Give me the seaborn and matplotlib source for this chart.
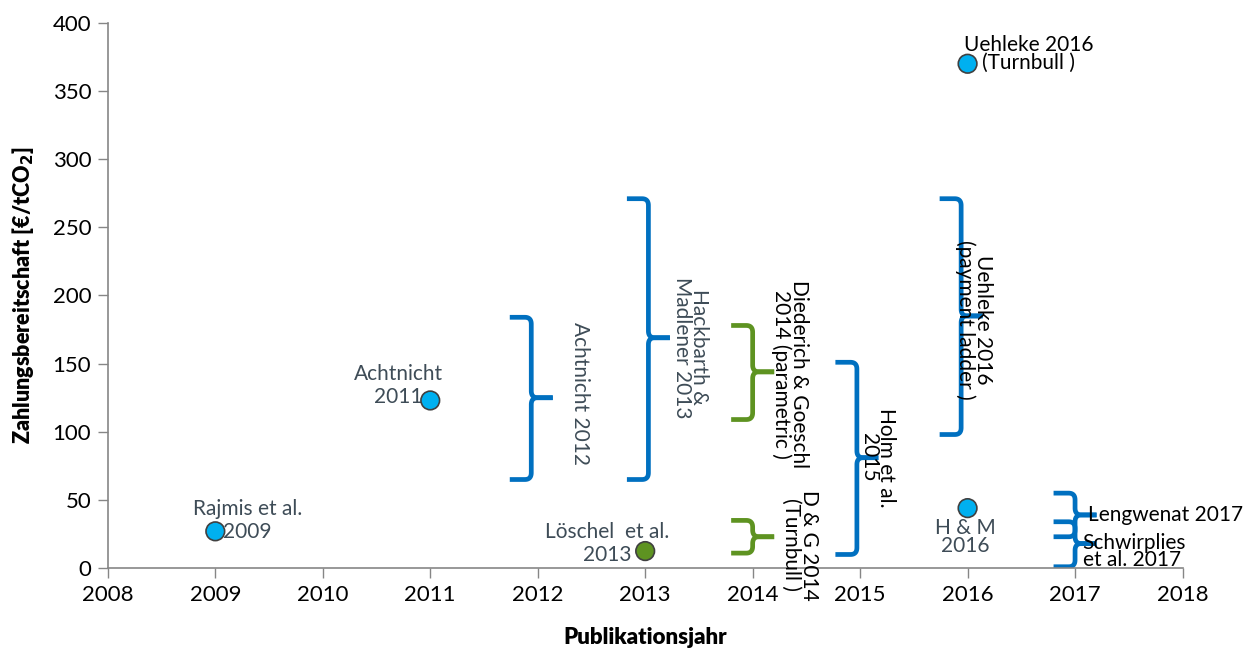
import numpy as np
import pandas as pd
import matplotlib
matplotlib.use('Agg')
import matplotlib.pyplot as plt
import seaborn as sns

# study points (year, value)
point_names = ['Rajmis et al.\n2009', 'Achtnicht\n2011', 'Löschel  et al.\n2013',
               'Uehleke 2016\n(Turnbull )', 'H & M\n2016']
point_year = [2009, 2011, 2013, 2016, 2016]
point_value = [27, 123, 12.5, 370, 44]
point_group = ['blue', 'blue', 'green', 'blue', 'blue']

# ranges shown as braces (x position, low, high, tip)
brace_names = ['Achtnicht 2012', 'Hackbarth &\nMadlener 2013',
               'Diederich & Goeschl\n2014 (parametric )', 'D & G 2014\n(Turnbull )',
               'Holm et al.\n2015', 'Uehleke 2016\n(payment ladder )',
               'Lengwenat 2017', 'Schwirplies\net al. 2017']
brace_x = [2011.94, 2013.03, 2014.0, 2014.0, 2014.97, 2015.94, 2017.0, 2017.0]
brace_low = [65, 65, 109, 11, 10, 98, 23, 1]
brace_high = [184, 271, 178, 35, 151, 271, 55, 34]
brace_tip = [125, 169, 144, 23, 81, 185, 39, 18]
brace_group = ['blue', 'blue', 'green', 'green', 'blue', 'blue', 'blue', 'blue']

colors = {'blue': '#0070C0', 'green': '#5E9321'}
marker_colors = {'blue': '#00B0F0', 'green': '#5E9321'}


def bezier(p0, p1, p2, n=15):
    t = np.linspace(0, 1, n)[:, None]
    return (1 - t) ** 2 * np.array(p0) + 2 * (1 - t) * t * np.array(p1) + t ** 2 * np.array(p2)


def draw_brace(ax, x, lo, hi, tip, color, w=0.2, rx=0.06, ry=5):
    upper = np.vstack([[(x - w, hi)],
                       bezier((x - rx, hi), (x, hi), (x, hi - ry)),
                       bezier((x, tip + ry), (x, tip), (x + rx, tip)),
                       [(x + w, tip)]])
    lower = np.vstack([[(x + w, tip)],
                       bezier((x + rx, tip), (x, tip), (x, tip - ry)),
                       bezier((x, lo + ry), (x, lo), (x - rx, lo)),
                       [(x - w, lo)]])
    for seg in (upper, lower):
        ax.plot(seg[:, 0], seg[:, 1], color=color, lw=3.4, solid_capstyle='butt',
                solid_joinstyle='round', zorder=2)


sns.set_style('white')
plt.rcParams['font.family'] = ['Lato', 'DejaVu Sans']

fig = plt.figure(figsize=(12.54, 6.53), dpi=100)
ax = fig.add_axes([0.086, 0.130, 0.857, 0.835])

df = pd.DataFrame({'Jahr': point_year, 'Wert': point_value, 'Gruppe': point_group})
sns.scatterplot(data=df, x='Jahr', y='Wert', hue='Gruppe', palette=marker_colors,
                s=180, edgecolor='#404040', linewidth=1.2, legend=False, ax=ax, zorder=4)

for x, lo, hi, tip, g in zip(brace_x, brace_low, brace_high, brace_tip, brace_group):
    draw_brace(ax, x, lo, hi, tip, colors[g])

gray = '#3E4C57'
fs = 15
# point labels
ax.text(2009.3, 35, point_names[0], ha='center', va='center', fontsize=fs, color=gray, linespacing=1.15)
ax.text(2010.7, 134, point_names[1], ha='center', va='center', fontsize=fs, color=gray, linespacing=1.2)
ax.text(2012.65, 18, point_names[2], ha='center', va='center', fontsize=fs, color=gray, linespacing=1.2)
ax.text(2016.57, 377, point_names[3], ha='center', va='center', fontsize=fs, color='black', linespacing=0.85)
ax.text(2015.98, 23, point_names[4], ha='center', va='center', fontsize=fs, color=gray, linespacing=0.85)

# brace labels
ax.text(2012.39, 128, brace_names[0], rotation=-90, ha='center', va='center', fontsize=fs, color=gray)
ax.text(2013.42, 162, brace_names[1], rotation=-90, ha='center', va='center', fontsize=fs,
        color=gray, linespacing=0.85)
ax.text(2014.35, 142, brace_names[2], rotation=-90, ha='center', va='center', fontsize=fs,
        color='black', linespacing=0.85)
ax.text(2014.44, 17, brace_names[3], rotation=-90, ha='center', va='center', fontsize=fs,
        color='black', linespacing=0.85)
ax.text(2015.16, 81, brace_names[4], rotation=-90, ha='center', va='center', fontsize=fs,
        color='black', linespacing=0.85)
ax.text(2016.06, 182, brace_names[5], rotation=-90, ha='center', va='center', fontsize=fs,
        color='black', linespacing=0.85)
ax.text(2017.12, 39, brace_names[6], ha='left', va='center', fontsize=fs, color='black')
ax.text(2017.07, 12, brace_names[7], ha='left', va='center', fontsize=fs, color='black',
        linespacing=0.8)

ax.set_xlim(2008, 2018)
ax.set_ylim(0, 400)
ax.set_xticks(range(2008, 2019))
ax.set_yticks(range(0, 401, 50))
ax.tick_params(axis='both', labelsize=16, length=7, width=1, color='#868686', direction='out',
               bottom=True, left=True, pad=5, labelcolor='black')
for side in ['top', 'right']:
    ax.spines[side].set_visible(False)
for side in ['left', 'bottom']:
    ax.spines[side].set_color('#868686')
    ax.spines[side].set_linewidth(1.2)

ax.set_xlabel('Publikationsjahr', fontsize=16, fontweight='heavy', labelpad=16, color='black')
ax.set_ylabel('Zahlungsbereitschaft [€/tCO$_\\mathbf{2}$]', fontsize=15.5, fontweight='heavy',
              labelpad=12, color='black')

plt.savefig('out.png', dpi=100)
